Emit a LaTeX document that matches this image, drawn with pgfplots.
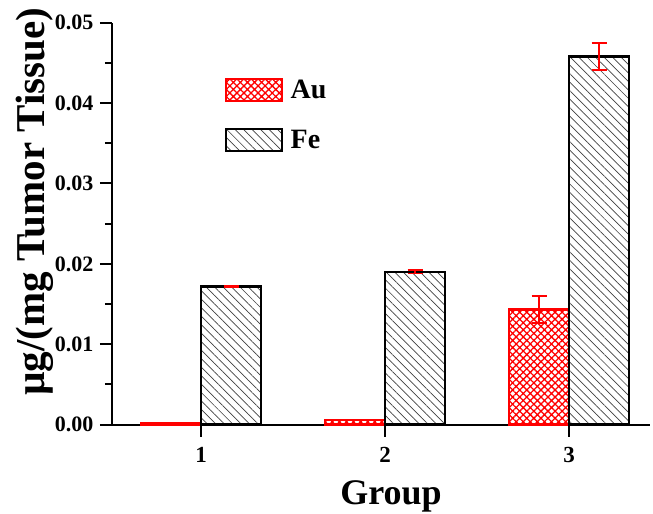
\documentclass[border=0pt]{standalone}
\usepackage{fontspec}
\setmainfont{Liberation Serif}
\usepackage{pgfplots}
\pgfplotsset{compat=1.18}
\usetikzlibrary{patterns.meta}
\begin{document}
\begin{tikzpicture}
\begin{axis}[
  scale only axis,
  width=538pt, height=402pt,
  ybar=0pt, bar width=60pt,
  xmin=0.516, xmax=3.44,
  ymin=0, ymax=0.05,
  axis x line=bottom, axis y line=left,
  axis line style={-, line width=2pt},
  xtick={1,2,3},
  ytick={0,0.01,0.02,0.03,0.04,0.05},
  minor ytick={0.005,0.015,0.025,0.035,0.045},
  tick align=outside,
  major tick length=12pt, minor tick length=7pt,
  every tick/.style={black, line width=2pt},
  scaled y ticks=false,
  yticklabel style={font=\fontsize{22}{26}\selectfont\bfseries, xshift=-3pt,
    /pgf/number format/fixed, /pgf/number format/fixed zerofill, /pgf/number format/precision=2, /pgf/number format/assume math mode=true},
  xticklabel style={font=\fontsize{23}{26}\selectfont\bfseries, anchor=base, yshift=-26pt, /pgf/number format/assume math mode=true},
  xlabel={Group}, ylabel={µg/(mg Tumor Tissue)},
  xlabel style={font=\fontsize{36}{40}\selectfont\bfseries, at={(rel axis cs:0.5,0)}, anchor=base, yshift=-80pt, xshift=10pt},
  ylabel style={font=\fontsize{41}{45}\selectfont\bfseries, at={(rel axis cs:0,0.5)}, anchor=base, xshift=22pt, yshift=67pt},
  clip=false,
  legend style={at={(0.205,0.867)}, anchor=north west, draw=none, fill=none,
    font=\fontsize{28}{32}\selectfont\bfseries, row sep=26pt},
  legend cell align=left,
  legend image code/.code={\draw[#1, line width=2pt] (0pt,-11pt) rectangle (56pt,11pt); \path (61pt,0pt);},
  error bars/y dir=both, error bars/y explicit,
  error bars/error bar style={red, line width=1.8pt},
  error bars/error mark options={red, line width=1.8pt, mark size=7.5pt, rotate=90},
]
\addplot[draw=red, line width=2.5pt, pattern={Hatch[angle=45,distance=5pt,line width=1.3pt]}, pattern color=red]
  coordinates {(1,0.0002) +- (0,0) (2,0.0006) +- (0,0) (3,0.0143) +- (0,0.0017)};
\addlegendentry{Au}
\addplot[draw=black, line width=2.5pt, pattern={Lines[angle=-45,distance=6pt,line width=0.7pt]}, pattern color=black!75]
  coordinates {(1,0.0172) +- (0,0.0001) (2,0.0190) +- (0,0.0002) (3,0.0458) +- (0,0.0017)};
\addlegendentry{Fe}
\coordinate (sw) at (rel axis cs:0,0);
\coordinate (ne) at (rel axis cs:1,1);
\end{axis}
\pgfresetboundingbox
\path ([shift={(-112pt,-89pt)}]sw) rectangle ([shift={(3pt,22.7pt)}]ne);
\end{tikzpicture}
\end{document}
